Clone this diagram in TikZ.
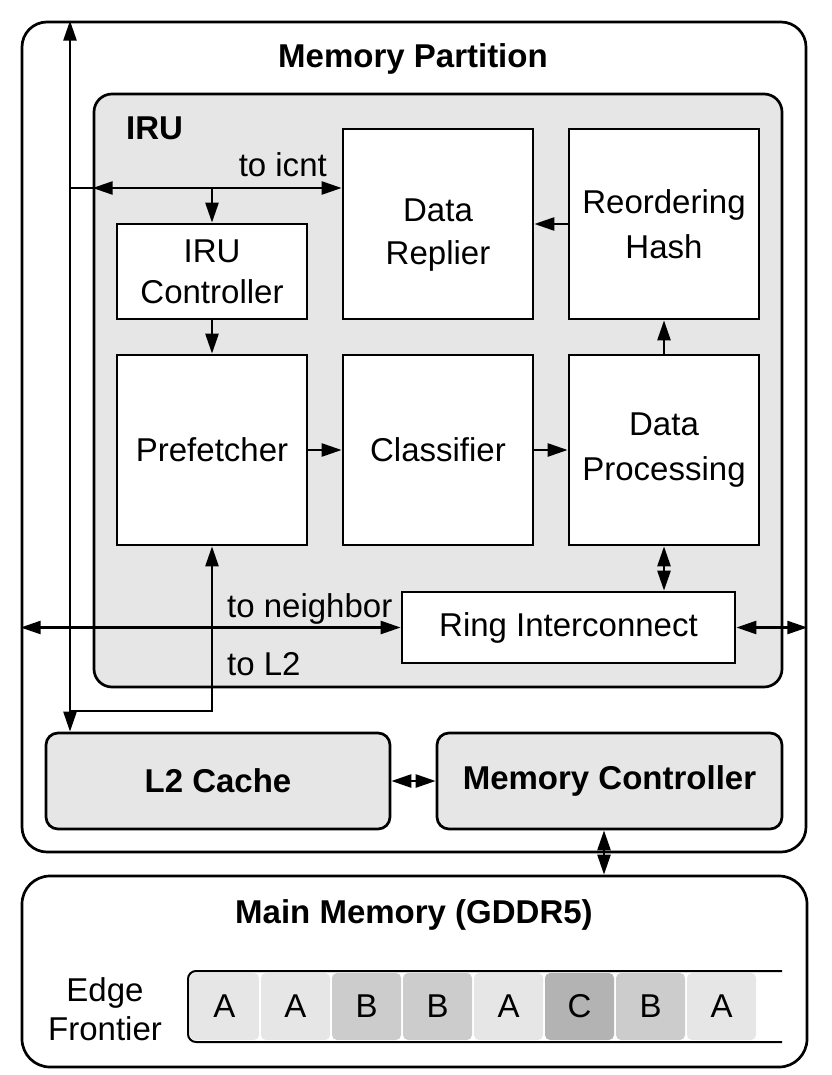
\documentclass[tikz,border=0pt]{standalone}
\usepackage{fontspec}
\setmainfont{Liberation Sans}
\usetikzlibrary{arrows.meta,calc}
\definecolor{ga}{HTML}{E6E6E6}
\definecolor{gb}{HTML}{CCCCCC}
\definecolor{gc}{HTML}{B3B3B3}
\begin{document}
\begin{tikzpicture}[x=1pt,y=-1pt,
  >={Triangle[length=20pt,width=13pt]},
  box/.style={draw,line width=2.7pt,fill=white,align=center,inner sep=0pt,
    font=\fontsize{33}{45}\selectfont},
  sq/.style={minimum width=190pt,minimum height=190pt},
  frame/.style={draw,line width=2.7pt,inner sep=0pt},
  conn/.style={line width=2.5pt},
  lbl/.style={inner sep=0pt,font=\fontsize{33}{40}\selectfont},
  ttl/.style={inner sep=0pt,font=\bfseries\fontsize{33}{40}\selectfont},
  cell/.style={inner sep=0pt,minimum width=69pt,minimum height=67pt,
    rounded corners=5pt,font=\fontsize{33}{40}\selectfont}]
\useasboundingbox (0,0) rectangle (831,1075);

% Memory partition
\node[frame,rounded corners=25pt,minimum width=784pt,minimum height=830pt] (part) at (414,437) {};
\node[ttl,anchor=base] (ptitle) at (413,68) {Memory Partition};

% IRU
\node[frame,fill=ga,rounded corners=18pt,minimum width=688pt,minimum height=593pt] (iru) at (438,390.5) {};
\node[ttl,anchor=base west] (irut) at (126,140) {IRU};

\node[box,minimum width=190pt,minimum height=95pt,font=\fontsize{33}{41}\selectfont] (ctrl) at (212,271.5) {IRU\\Controller};
\node[box,sq] (repl) at (438,224) {\raisebox{-10pt}[\height][\depth]{\begin{tabular}{@{}c@{}}Data\\[-2pt]Replier\end{tabular}}};
\node[box,sq] (hash) at (664,224) {Reordering\\Hash};
\node[box,sq] (pref) at (212,450) {Prefetcher};
\node[box,sq] (clas) at (438,450) {Classifier};
\node[box,sq] (proc) at (664,450) {Data\\Processing};
\node[box,minimum width=333pt,minimum height=71pt] (ring) at (568.5,627.5) {Ring Interconnect};

% L2 and memory controller
\node[box,fill=ga,rounded corners=12pt,minimum width=344pt,minimum height=96pt,
  font=\bfseries\fontsize{33}{40}\selectfont] (l2) at (218,781) {L2 Cache};
\node[box,fill=ga,rounded corners=12pt,minimum width=345pt,minimum height=96pt,
  font=\bfseries\fontsize{33}{40}\selectfont] (mc) at (609.5,781) {Memory Controller};

% Main memory
\node[frame,rounded corners=28pt,minimum width=785pt,minimum height=191pt] (mm) at (414.5,971.5) {};
\node[ttl,anchor=base] (mmt) at (414,923) {Main Memory (GDDR5)};
\node[inner sep=0pt,align=center,font=\fontsize{33}{39}\selectfont] (ef) at (105,1009) {Edge\\Frontier};

\foreach \l/\col [count=\i from 0] in {A/ga,A/ga,B/gb,B/gb,A/ga,C/gc,B/gb,A/ga}
  \node[cell,fill=\col] (c\i) at ({224.5+71*\i},1006.5) {\l};
\draw[line width=2pt,rounded corners=8pt] (782,971) -- (188,971) -- (188,1042) -- (782,1042);

% connectors
\coordinate (xv) at (70,0);
\coordinate (yi) at (0,188);
\coordinate (yl) at (0,711);
\coordinate (xm) at (604,0);

\draw[conn,<->] (part.north -| xv) -- (l2.north -| xv);
\draw[conn] (yi -| xv) -- (yi -| iru.west);
\draw[conn,<->] (yi -| iru.west) -- (yi -| repl.west);
\draw[conn,->] (yi -| ctrl.north) -- (ctrl.north);
\node[lbl,anchor=base east] (ticnt) at (327,177) {to icnt};

\draw[conn,->] (ctrl) -- (pref);
\draw[conn,->] (pref) -- (clas);
\draw[conn,->] (clas) -- (proc);
\draw[conn,->] (proc) -- (hash);
\draw[conn,->] (hash) -- (repl);
\draw[conn,<->] (proc.south) -- (ring.north -| proc.south);

\draw[conn,<->] (ring.west -| part.west) -- (ring.west);
\draw[conn,<->] (ring.east) -- (ring.east -| part.east);
\node[lbl,anchor=base west] (tnb) at (227,617) {to neighbor};

\draw[conn,->] (yl -| xv) -- (yl -| pref.south) -- (pref.south);
\node[lbl,anchor=base west] (tl2) at (227,675) {to L2};

\draw[conn,<->] (l2) -- (mc);
\draw[conn,<->] (mc.south -| xm) -- (mm.north -| xm);
\end{tikzpicture}
\end{document}
